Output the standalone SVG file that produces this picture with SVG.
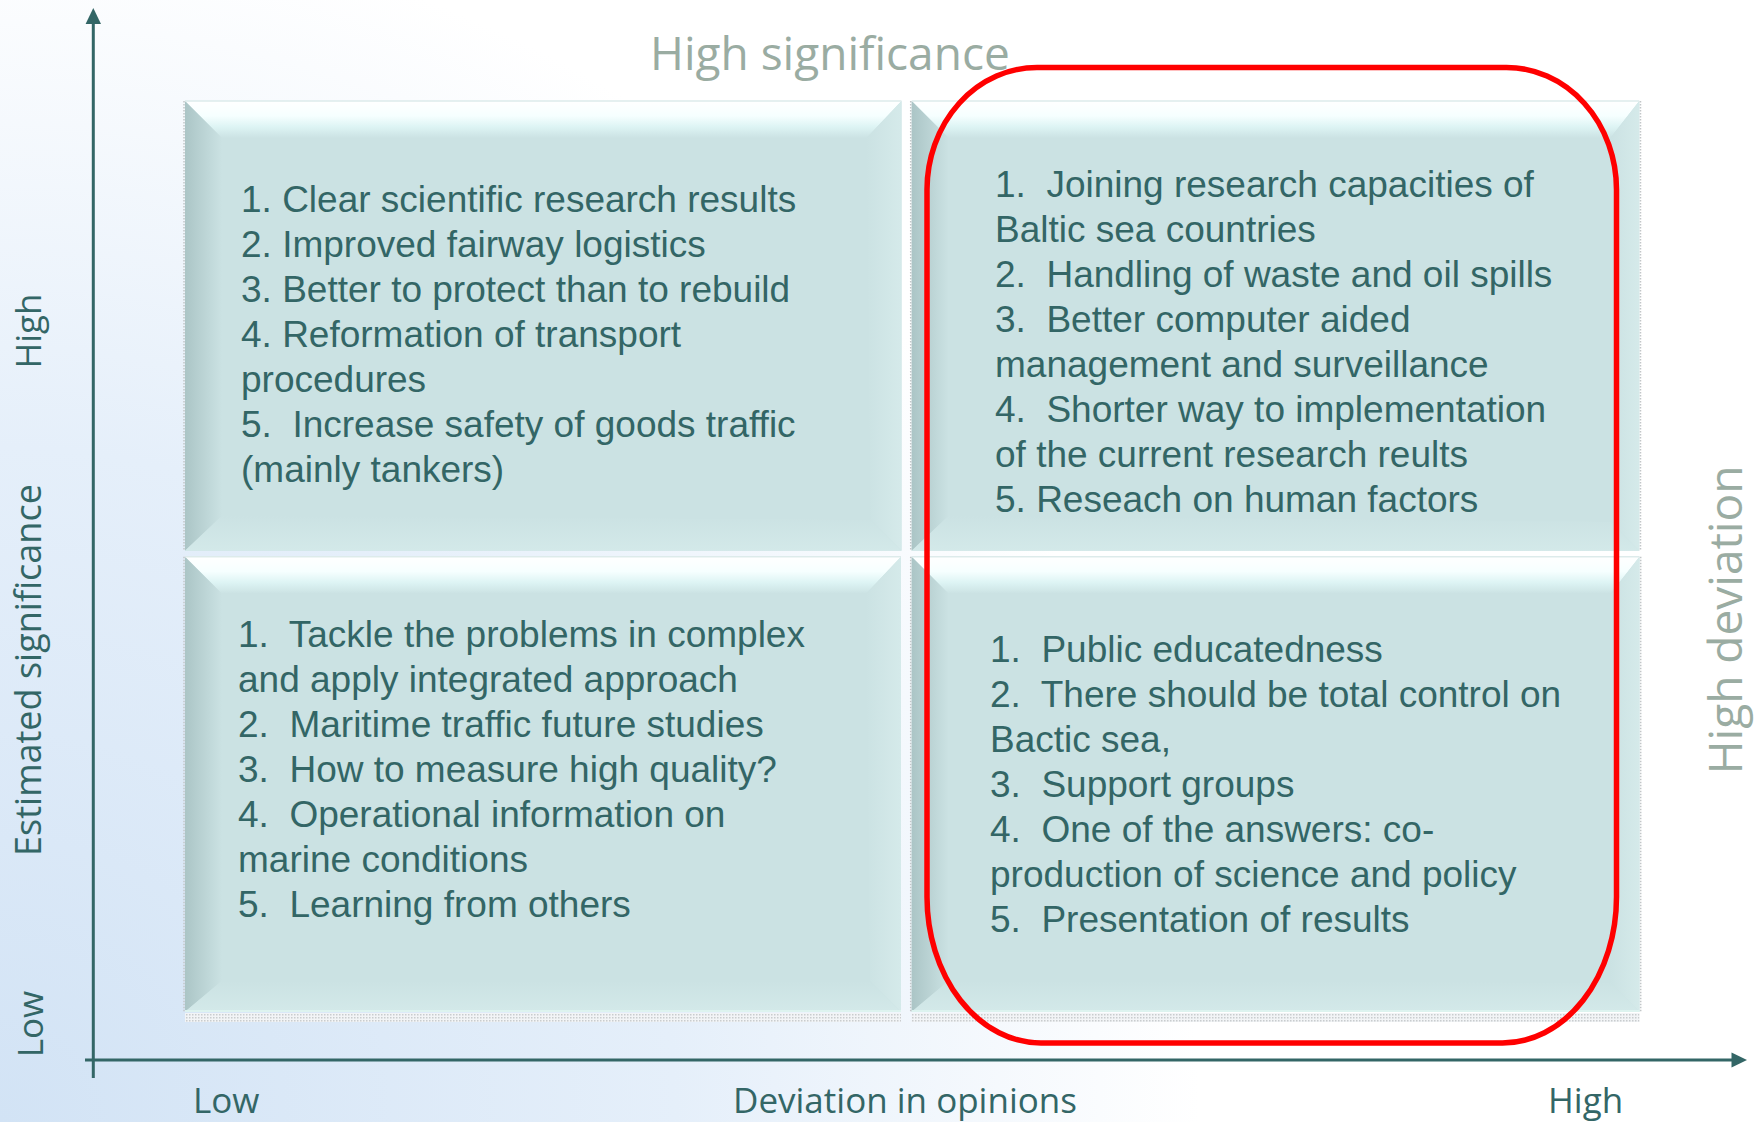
<svg xmlns="http://www.w3.org/2000/svg" width="1758" height="1122" viewBox="0 0 1758 1122">
<defs>
<radialGradient id="bg" gradientUnits="userSpaceOnUse" cx="0" cy="1122" r="1500">
<stop offset="0" stop-color="#D2E3F5"/>
<stop offset="0.45" stop-color="#E5EFFA"/>
<stop offset="0.8" stop-color="#FFFFFF"/>
</radialGradient>
<linearGradient id="gTop" x1="0" y1="0" x2="0" y2="1">
<stop offset="0" stop-color="#FFFFFF"/>
<stop offset="0.4" stop-color="#F6FFFF"/>
<stop offset="0.7" stop-color="#DDF4F4"/>
<stop offset="1" stop-color="#CBE2E3"/>
</linearGradient>
<linearGradient id="gLeft" x1="0" y1="0" x2="1" y2="0">
<stop offset="0" stop-color="#ABC5C6"/>
<stop offset="1" stop-color="#CBE2E3"/>
</linearGradient>
<linearGradient id="gRight" x1="0" y1="0" x2="1" y2="0">
<stop offset="0" stop-color="#CBE2E3"/>
<stop offset="1" stop-color="#D5EAEA"/>
</linearGradient>
<linearGradient id="gBottom" x1="0" y1="0" x2="0" y2="1">
<stop offset="0" stop-color="#CBE2E3"/>
<stop offset="1" stop-color="#D3E9E9"/>
</linearGradient>
<pattern id="dots" width="3" height="3" patternUnits="userSpaceOnUse">
<rect width="3" height="3" fill="#F2F4F6"/>
<rect width="1.5" height="1.5" fill="#C9CCCE"/>
</pattern>
</defs>
<style>
.base{fill:#CBE2E3}
.bt{fill:url(#gTop)}
.bl{fill:url(#gLeft)}
.br{fill:url(#gRight)}
.bb{fill:url(#gBottom)}
.edge{stroke:#C2C6C8;stroke-width:1.5;stroke-dasharray:1.5 1.5;fill:none}
.topline{stroke:#DDEBEB;stroke-width:1.5}
.shadow{fill:url(#dots)}
.item{font-family:"Liberation Sans",Arial,sans-serif;font-size:37px;fill:#336666}
.axlab{font-family:"Open Sans","Noto Sans",sans-serif;font-size:35px;fill:#336666}
.big{font-family:"Open Sans","Noto Sans",sans-serif;font-size:46px;fill:#9AACA2}
.axis{stroke:#336666;stroke-width:3;fill:none}
.red{stroke:#FF0000;stroke-width:5.5;fill:none}
</style>
<rect x="0" y="0" width="1758" height="1122" fill="url(#bg)"/>

<g id="box-top-left">
<rect class="base" x="185" y="101" width="716.5" height="449.7"/>
<polygon class="bt" points="185,101 901.5,101 866.5,138 222,138"/>
<polygon class="bl" points="185,101 222,138 222,515.7 185,550.7"/>
<polygon class="br" points="901.5,101 901.5,550.7 870.5,519.7 866.5,138"/>
<polygon class="bb" points="185,550.7 222,515.7 870.5,519.7 901.5,550.7"/>
<line class="topline" x1="185" y1="101" x2="901.5" y2="101"/>
<line class="edge" x1="184" y1="101" x2="184" y2="550.7"/>
<text class="item" xml:space="preserve"><tspan x="241" y="211.7">1. Clear scientific research results</tspan><tspan x="241" y="256.7">2. Improved fairway logistics</tspan><tspan x="241" y="301.7">3. Better to protect than to rebuild</tspan><tspan x="241" y="346.7">4. Reformation of transport</tspan><tspan x="241" y="391.7">procedures</tspan><tspan x="241" y="436.7">5.  Increase safety of goods traffic</tspan><tspan x="241" y="481.7">(mainly tankers)</tspan></text>
</g>

<g id="box-top-right">
<rect class="base" x="911.7" y="101" width="727.6" height="449.7"/>
<polygon class="bt" points="911.7,101 1639.3,101 1610.3,138 948.7,138"/>
<polygon class="bl" points="911.7,101 948.7,138 948.7,515.7 911.7,550.7"/>
<polygon class="br" points="1639.3,101 1639.3,550.7 1610.3,521.7 1610.3,138"/>
<polygon class="bb" points="911.7,550.7 948.7,515.7 1610.3,521.7 1639.3,550.7"/>
<line class="topline" x1="911.7" y1="101" x2="1639.3" y2="101"/>
<line class="edge" x1="910.7" y1="101" x2="910.7" y2="550.7"/>
<line class="edge" x1="1640.5" y1="101" x2="1640.5" y2="550.7"/>
<text class="item" xml:space="preserve"><tspan x="995" y="196.7">1.  Joining research capacities of</tspan><tspan x="995" y="241.7">Baltic sea countries</tspan><tspan x="995" y="286.7">2.  Handling of waste and oil spills</tspan><tspan x="995" y="331.7">3.  Better computer aided</tspan><tspan x="995" y="376.7">management and surveillance</tspan><tspan x="995" y="421.7">4.  Shorter way to implementation</tspan><tspan x="995" y="466.7">of the current research reults</tspan><tspan x="995" y="511.7">5. Reseach on human factors</tspan></text>
</g>

<g id="box-bottom-left">
<rect class="base" x="185" y="556.7" width="716" height="455"/>
<polygon class="bt" points="185,556.7 901,556.7 866,593.7 222,593.7"/>
<polygon class="bl" points="185,556.7 222,593.7 222,980.7 185,1011.7"/>
<polygon class="br" points="901,556.7 901,1011.7 870,980.7 866,593.7"/>
<polygon class="bb" points="185,1011.7 222,980.7 870,980.7 901,1011.7"/>
<line class="topline" x1="185" y1="556.7" x2="901" y2="556.7"/>
<line x1="185" y1="1011" x2="901" y2="1011" stroke="#DDF3EF" stroke-width="2"/>
<line class="edge" x1="184" y1="556.7" x2="184" y2="1011.7"/>
<rect class="shadow" x="185" y="1013" width="716" height="9"/>
<text class="item" xml:space="preserve"><tspan x="238" y="646.7">1.  Tackle the problems in complex</tspan><tspan x="238" y="691.7">and apply integrated approach</tspan><tspan x="238" y="736.7">2.  Maritime traffic future studies</tspan><tspan x="238" y="781.7">3.  How to measure high quality?</tspan><tspan x="238" y="826.7">4.  Operational information on</tspan><tspan x="238" y="871.7">marine conditions</tspan><tspan x="238" y="916.7">5.  Learning from others</tspan></text>
</g>

<g id="box-bottom-right">
<rect class="base" x="911.7" y="556.7" width="727.8" height="455"/>
<polygon class="bt" points="911.7,556.7 1639.5,556.7 1610.5,593.7 948.7,593.7"/>
<polygon class="bl" points="911.7,556.7 948.7,593.7 948.7,980.7 911.7,1011.7"/>
<polygon class="br" points="1639.5,556.7 1639.5,1011.7 1610.5,982.7 1610.5,593.7"/>
<polygon class="bb" points="911.7,1011.7 948.7,980.7 1610.5,982.7 1639.5,1011.7"/>
<line class="topline" x1="911.7" y1="556.7" x2="1639.5" y2="556.7"/>
<line x1="911.7" y1="1011" x2="1639.5" y2="1011" stroke="#DDF3EF" stroke-width="2"/>
<line class="edge" x1="910.7" y1="556.7" x2="910.7" y2="1011.7"/>
<line class="edge" x1="1640.7" y1="556.7" x2="1640.7" y2="1011.7"/>
<rect class="shadow" x="911.7" y="1013" width="727.8" height="9"/>
<text class="item" xml:space="preserve"><tspan x="990" y="661.7">1.  Public educatedness</tspan><tspan x="990" y="706.7">2.  There should be total control on</tspan><tspan x="990" y="751.7">Bactic sea,</tspan><tspan x="990" y="796.7">3.  Support groups</tspan><tspan x="990" y="841.7">4.  One of the answers: co-</tspan><tspan x="990" y="886.7">production of science and policy</tspan><tspan x="990" y="931.7">5.  Presentation of results</tspan></text>
</g>

<g id="highlight">
<path class="red" d="M1037,67.5 L1506.5,67.5 A110,122 0 0 1 1616.5,189.5 L1616.5,897 A114,146 0 0 1 1502.5,1043 L1041,1043 A114,146 0 0 1 927,897 L927,189.5 A110,122 0 0 1 1037,67.5 Z"/>
</g>

<g id="connectors">
<line class="axis" x1="93.3" y1="1078" x2="93.3" y2="22"/>
<polygon points="93.3,8 101,24 85.6,24" fill="#336666"/>
<line class="axis" x1="85" y1="1060" x2="1733" y2="1060"/>
<polygon points="1747,1060 1731.5,1052.5 1731.5,1067.5" fill="#336666"/>
</g>

<g id="labels">
<text class="big" x="650" y="70">High significance</text>
<text class="big" text-anchor="middle" transform="translate(1742,620) rotate(-90)">High deviation</text>
<text class="axlab" text-anchor="middle" transform="translate(41,670) rotate(-90)" style="font-size:36px">Estimated significance</text>
<text class="axlab" text-anchor="middle" transform="translate(41,331) rotate(-90)">High</text>
<text class="axlab" text-anchor="middle" transform="translate(43,1024) rotate(-90)">Low</text>
<text class="axlab" x="193" y="1113">Low</text>
<text class="axlab" x="733" y="1113">Deviation in opinions</text>
<text class="axlab" x="1548" y="1113">High</text>
</g>
</svg>
